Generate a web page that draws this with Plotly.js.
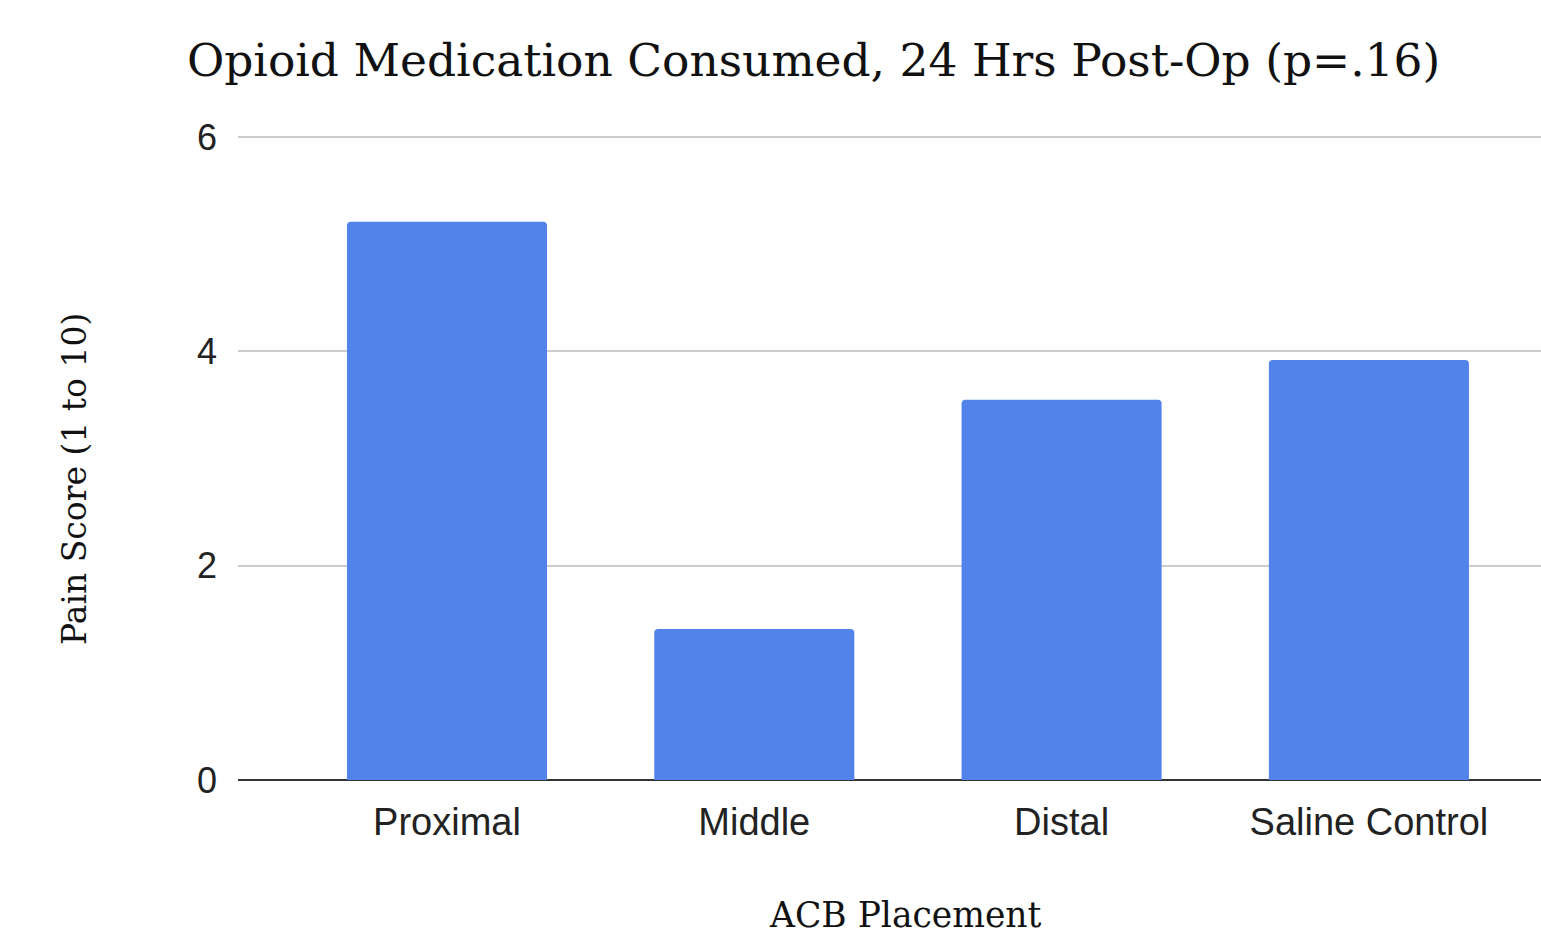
<!DOCTYPE html>
<html>
<head>
<meta charset="utf-8">
<script src="https://cdn.plot.ly/plotly-3.0.1.min.js"></script>
<style>html,body{margin:0;padding:0;background:#fff;}#chart{width:1541px;height:940px;}</style>
</head>
<body>
<div id="chart"></div>
<script>
const categories = ["Proximal", "Middle", "Distal", "Saline Control"];
const painScores = [5.21, 1.41, 3.55, 3.92];
const yTickValues = [0, 2, 4, 6];
const yTickLabels = ["0", "2", "4", "6"];
const chartTitle = "Opioid Medication Consumed, 24 Hrs Post-Op (p=.16)";
const xTitle = "ACB Placement";
const yTitle = "Pain Score (1 to 10)";

const serif = "DejaVu Serif, Georgia, serif";
const sans = "Liberation Sans, Arial, sans-serif";

const trace = {
  type: "bar",
  x: categories,
  y: painScores,
  marker: { color: "#5283eb", cornerradius: 4 },
  hoverinfo: "x+y"
};

const plotTop = 134, plotBottom = 160;
const plotH = 940 - plotTop - plotBottom;

const layout = {
  width: 1541,
  height: 940,
  paper_bgcolor: "#ffffff",
  plot_bgcolor: "#ffffff",
  margin: { l: 238, r: 0, t: plotTop, b: plotBottom },
  bargap: 0.349,
  showlegend: false,
  title: {
    text: chartTitle,
    font: { family: serif, size: 45.5, color: "#111" },
    x: 0.528, xanchor: "center",
    y: 0.936, yanchor: "middle"
  },
  xaxis: {
    type: "category",
    range: [-0.68, 3.56],
    showgrid: false,
    showline: false,
    zeroline: false,
    ticks: "",
    ticklabelstandoff: 16,
    tickfont: { family: sans, size: 38, color: "#222" }
  },
  yaxis: {
    range: [0, 6.03],
    tickvals: yTickValues,
    ticktext: yTickLabels,
    showgrid: true,
    gridcolor: "#cccccc",
    gridwidth: 2,
    zeroline: true,
    zerolinecolor: "#333333",
    zerolinewidth: 2,
    showline: false,
    ticks: "",
    ticklabelstandoff: 20,
    tickfont: { family: sans, size: 36, color: "#222" }
  },
  annotations: [
    {
      text: xTitle, showarrow: false,
      xref: "paper", yref: "paper",
      x: (905 - 238) / 1303, y: -(915 - 780) / plotH,
      xanchor: "center", yanchor: "middle",
      font: { family: serif, size: 34.5, color: "#111" }
    },
    {
      text: yTitle, showarrow: false, textangle: -90,
      xref: "paper", yref: "paper",
      x: (75 - 238) / 1303, y: (780 - 479) / plotH,
      xanchor: "center", yanchor: "middle",
      font: { family: serif, size: 33, color: "#111" }
    }
  ]
};

Plotly.newPlot("chart", [trace], layout, { displayModeBar: false, staticPlot: true });
</script>
</body>
</html>
